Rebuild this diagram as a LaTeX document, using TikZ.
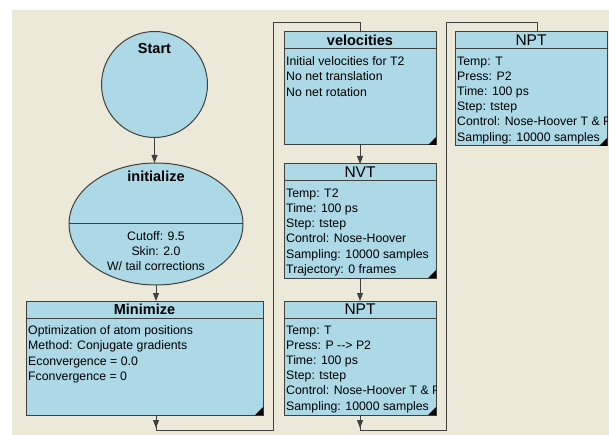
\documentclass[tikz,border=0pt]{standalone}
\usepackage{fontspec}
\setmainfont{Liberation Sans}
\usetikzlibrary{shapes.geometric,arrows.meta,calc}
\definecolor{face}{HTML}{ECE9D8}
\definecolor{boxfill}{HTML}{ADD8E6}
\definecolor{edge}{HTML}{404040}
\tikzset{
 shapebox/.style={draw=edge, fill=boxfill, line width=1pt, outer sep=0pt, inner sep=0pt},
 ttl/.style={font=\fontsize{14.5}{16}\selectfont\bfseries, inner sep=0pt},
 ttlr/.style={font=\fontsize{15.5}{16}\selectfont, inner sep=0pt},
 bodytxt/.style={font=\fontsize{12.3}{15.2}\selectfont, align=left, inner sep=0pt, anchor=north west},
 conn/.style={draw=edge, line width=0.9pt},
 tip/.style={conn, -{Triangle[length=8pt,width=6pt]}},
}
% name, x, y, width, height, title style, title, body
\newcommand\mkbox[8]{%
 \node[shapebox, anchor=north west, minimum width=#4, minimum height=#5] (#1) at (#2,#3) {};
 \draw[edge, line width=1pt] ($(#1.north west)+(0,17)$) -- ($(#1.north east)+(0,17)$);
 \node[#6] (#1-t) at ($(#1.north)+(0,8.5)$) {#7};
 \begin{scope}
  \clip (#1.north west) rectangle (#1.south east);
  \node[bodytxt] (#1-b) at ($(#1.north west)+(2,24.5)$) {#8};
 \end{scope}
 \fill[black] ($(#1.south east)+(-8,0)$) -- (#1.south east) -- ($(#1.south east)+(0,-8)$) -- cycle;
}
\begin{document}
\begin{tikzpicture}[x=1pt,y=-1pt]
\useasboundingbox (0,0) rectangle (609,435);
\fill[white] (0,0) rectangle (609,435);
\fill[face] (12,10) rectangle (609,435);

% Start
\node[shapebox, circle, minimum size=106] (start) at (154.5,84.5) {};
\node[ttl] (start-t) at (154.5,49) {Start};

% initialize
\node[shapebox, ellipse, minimum width=174, minimum height=122] (init) at (156,224) {};
\draw[edge, line width=1pt] (init.west) -- (init.east);
\node[ttl] (init-t) at (156,176) {initialize};
\node[font=\fontsize{12.3}{15.3}\selectfont, align=center, inner sep=0pt] (init-b) at (156,251) {Cutoff: 9.5\\ Skin: 2.0\\W/ tail corrections};

% boxes
\mkbox{min}{26}{301}{237}{114}{ttl}{Minimize}{Optimization of atom positions\\Method: Conjugate gradients\\Econvergence = 0.0\\Fconvergence = 0}
\mkbox{vel}{284}{32}{152}{113}{ttl}{velocities}{Initial velocities for T2\\No net translation\\No net rotation}
\mkbox{nvt}{284}{164}{152}{114}{ttlr}{NVT}{Temp: T2\\Time: 100 ps\\Step: tstep\\Control: Nose-Hoover\\Sampling: 10000 samples\\Trajectory: 0 frames}
\mkbox{npta}{284}{301}{152}{114}{ttlr}{NPT}{Temp: T\\Press: P {-}{-}> P2\\Time: 100 ps\\Step: tstep\\Control: Nose-Hoover T \& P\\Sampling: 10000 samples}
\mkbox{nptb}{455}{32}{152}{114}{ttlr}{NPT}{Temp: T\\Press: P2\\Time: 100 ps\\Step: tstep\\Control: Nose-Hoover T \& P\\Sampling: 10000 samples}

% connector end points
\coordinate (min-in) at ($(min.north west)+(130,0)$);
\coordinate (min-out) at ($(min.south west)+(130,0)$);
\coordinate (nptb-in) at ($(nptb.north west)+(82,0)$);

% connectors
\draw[tip] (start.south) -- (start.south |- init.north);
\draw[tip] (init.south) -- (min-in);
\draw[tip] (vel.south) -- (nvt.north);
\draw[tip] (nvt.south) -- (npta.north);

\coordinate (j1) at (156,430);
\coordinate (j2) at (273,22);
\draw[conn] (min-out) -- (j1) -| (j2) -| (vel.north);
\draw[tip] (min-out) -- ++(0,13);

\coordinate (k1) at (360,430);
\coordinate (k2) at (446,22);
\draw[conn] (npta.south) -- (k1) -| (k2) -| (nptb-in);
\draw[tip] (npta.south) -- ++(0,13);
\end{tikzpicture}
\end{document}
